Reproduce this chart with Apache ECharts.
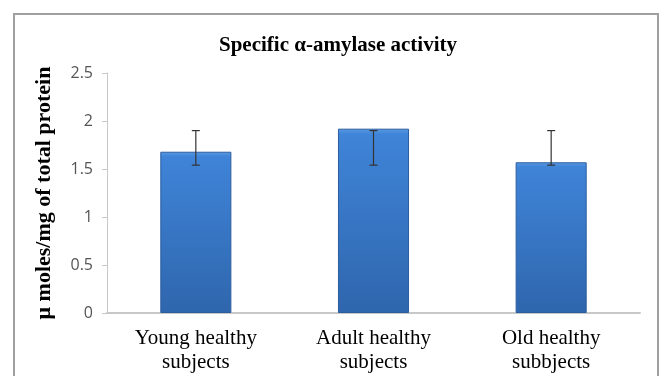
<!DOCTYPE html>
<html><head><meta charset="utf-8">
<script src="https://cdn.jsdelivr.net/npm/echarts@6/dist/echarts.min.js"></script>
<style>html,body{margin:0;padding:0;background:#fff}#c{width:662px;height:376px}</style>
</head><body><div id="c"></div>
<script>
var categories = ['Young healthy\nsubjects', 'Adult healthy\nsubjects', 'Old healthy\nsubbjects'];
var values = [1.68, 1.92, 1.57];
var errLow = [1.54, 1.54, 1.54];
var errHigh = [1.90, 1.90, 1.90];
var yTicks = [0, 0.5, 1, 1.5, 2, 2.5];

var chart = echarts.init(document.getElementById('c'));
var serif = '"Liberation Serif", "DejaVu Serif", serif';
chart.setOption({
  animation: false,
  graphic: [{
    type: 'rect', shape: {x: 14, y: 14, width: 644, height: 380},
    style: {fill: 'none', stroke: '#a0a0a0', lineWidth: 2}, z: -1
  }],
  title: {
    text: 'Specific α-amylase activity', left: 333, top: 30, textAlign: 'center',
    textStyle: {fontFamily: serif, fontWeight: 'bold', fontSize: 21, color: '#000'}
  },
  grid: {left: 107, right: 22, top: 73, bottom: 63},
  xAxis: {
    type: 'category', data: categories,
    axisLine: {lineStyle: {color: '#c8c8c8', width: 2}},
    axisTick: {show: false},
    axisLabel: {fontFamily: serif, fontSize: 21, color: '#000', lineHeight: 24, margin: 13}
  },
  yAxis: {
    type: 'value', min: 0, max: 2.5, interval: 0.5,
    name: 'μ moles/mg of total protein', nameLocation: 'middle', nameGap: 52,
    nameTextStyle: {fontFamily: serif, fontWeight: 'bold', fontSize: 22, color: '#000'},
    axisLine: {show: true, lineStyle: {color: '#c8c8c8', width: 1}},
    axisTick: {show: true, length: 5, lineStyle: {color: '#c8c8c8'}},
    splitLine: {show: false},
    axisLabel: {
      fontFamily: '"Open Sans", "Liberation Sans", sans-serif', fontSize: 16, color: '#555', margin: 14,
      formatter: function (v) { return yTicks.indexOf(v) >= 0 ? String(v) : ''; }
    }
  },
  series: [{
    type: 'bar', data: values, barWidth: '40%',
    itemStyle: {
      color: new echarts.graphic.LinearGradient(0, 0, 0, 1, [
        {offset: 0, color: '#5b9be3'}, {offset: 0.03, color: '#3f84d8'},
        {offset: 1, color: '#2f66ad'}
      ]),
      borderColor: '#2b5d9e', borderWidth: 1
    }
  }, {
    type: 'custom',
    data: categories.map(function (c, i) { return [i, errLow[i], errHigh[i]]; }),
    renderItem: function (params, api) {
      var lo = api.coord([api.value(0), api.value(1)]);
      var hi = api.coord([api.value(0), api.value(2)]);
      var w = 4;
      var st = {stroke: '#333', lineWidth: 1.2};
      return {type: 'group', children: [
        {type: 'line', shape: {x1: hi[0], y1: hi[1], x2: lo[0], y2: lo[1]}, style: st},
        {type: 'line', shape: {x1: hi[0]-w, y1: hi[1], x2: hi[0]+w, y2: hi[1]}, style: st},
        {type: 'line', shape: {x1: lo[0]-w, y1: lo[1], x2: lo[0]+w, y2: lo[1]}, style: st}
      ]};
    },
    z: 10
  }]
});
</script></body></html>
